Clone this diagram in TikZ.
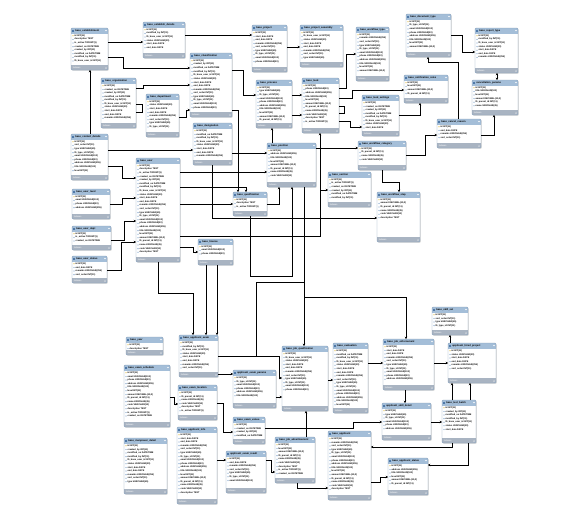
\documentclass[tikz,border=0pt]{standalone}
\usepackage{fontspec}
\setmainfont{Liberation Sans}
\usetikzlibrary{arrows.meta,calc}
\definecolor{hdrc}{HTML}{A4BED8}
\definecolor{bordc}{HTML}{88A2BE}
\definecolor{footc}{HTML}{A9B4C2}
\definecolor{iconc}{HTML}{4F79A8}
\definecolor{keyc}{HTML}{E2B93B}
\definecolor{dotc}{HTML}{7FA3CC}
\expandafter\def\csname fld1\endcsname{name VARCHAR(45)}
\expandafter\def\csname fld2\endcsname{code VARCHAR(10)}
\expandafter\def\csname fld3\endcsname{description TEXT}
\expandafter\def\csname fld4\endcsname{is\_active TINYINT(1)}
\expandafter\def\csname fld5\endcsname{created\_on DATETIME}
\expandafter\def\csname fld6\endcsname{created\_by INT(11)}
\expandafter\def\csname fld7\endcsname{modified\_on DATETIME}
\expandafter\def\csname fld8\endcsname{modified\_by INT(11)}
\expandafter\def\csname fld9\endcsname{fk\_base\_user\_id INT(11)}
\expandafter\def\csname fld10\endcsname{status VARCHAR(20)}
\expandafter\def\csname fld11\endcsname{start\_date DATE}
\expandafter\def\csname fld12\endcsname{end\_date DATE}
\expandafter\def\csname fld13\endcsname{remarks VARCHAR(255)}
\expandafter\def\csname fld14\endcsname{sort\_order INT(11)}
\expandafter\def\csname fld15\endcsname{type VARCHAR(45)}
\expandafter\def\csname fld16\endcsname{fk\_type\_id INT(11)}
\expandafter\def\csname fld17\endcsname{email VARCHAR(100)}
\expandafter\def\csname fld18\endcsname{phone VARCHAR(20)}
\expandafter\def\csname fld19\endcsname{address VARCHAR(255)}
\expandafter\def\csname fld20\endcsname{title VARCHAR(100)}
\expandafter\def\csname fld21\endcsname{level INT(11)}
\expandafter\def\csname fld22\endcsname{amount DECIMAL(10,2)}
\expandafter\def\csname fld23\endcsname{fk\_parent\_id INT(11)}
\tikzset{
  erbox/.style={inner sep=0pt, outer sep=0pt, anchor=north west, draw=none},
  ertitle/.style={font=\fontsize{2.5}{3}\selectfont\bfseries, inner sep=0pt, anchor=west},
  errow/.style={font=\fontsize{2.3}{2.8}\selectfont\bfseries, inner sep=0pt, anchor=west},
  erfoot/.style={font=\fontsize{2.2}{2.6}\selectfont, inner sep=0pt, anchor=west, text=white},
  conn/.style={draw=black, line width=0.6pt},
  tip/.style={-{Stealth[length=2.4pt,width=2.6pt]}},
  tips/.style={{Stealth[length=2.4pt,width=2.6pt]}-{Stealth[length=2.4pt,width=2.6pt]}},
}
% name, x1, y1, x2, y2, title, rows, offset
\newcommand{\ertable}[8]{%
  \node[erbox, minimum width={(#4-#2)*1pt}, minimum height={(#5-#3)*1pt}] (#1) at (#2,#3) {};
  \fill[black!14, rounded corners=1.2pt] ([xshift=0.9pt,yshift=-0.9pt]#1.north west) rectangle ([xshift=0.9pt,yshift=-0.9pt]#1.south east);
  \fill[white, rounded corners=1.2pt] (#1.north west) rectangle (#1.south east);
  \fill[hdrc, rounded corners=1.2pt] (#1.north west) rectangle ([yshift=-5.6pt]#1.north east);
  \fill[hdrc] ([yshift=-3pt]#1.north west) rectangle ([yshift=-5.6pt]#1.north east);
  \fill[footc, rounded corners=1.2pt] ([yshift=4.6pt]#1.south west) rectangle (#1.south east);
  \fill[footc] ([yshift=4.6pt]#1.south west) rectangle ([yshift=2pt]#1.south east);
  \draw[bordc, line width=0.45pt, rounded corners=1.2pt] (#1.north west) rectangle (#1.south east);
  \fill[iconc] ([xshift=1.1pt,yshift=-1.7pt]#1.north west) rectangle ++(2.2pt,-2.2pt);
  \fill[white] ([xshift=-2.8pt,yshift=-2.2pt]#1.north east) -- ++(1.6pt,0) -- ++(-0.8pt,-1.1pt) -- cycle;
  \node[ertitle] (#1-t) at ([xshift=4.1pt,yshift=-2.8pt]#1.north west) {#6};
  \node[erfoot] (#1-f) at ([xshift=1.6pt,yshift=2.3pt]#1.south west) {Indexes};
  \fill[white] ([xshift=-2.8pt,yshift=1.6pt]#1.south east) -- ++(1.6pt,0) -- ++(-0.8pt,1.1pt) -- cycle;
  \foreach \i in {1,...,#7}{%
    \pgfmathtruncatemacro\k{mod(\i+#8,23)+1}%
    \def\dc{dotc}\ifnum\i=1 \def\dc{keyc}\fi
    \fill[fill=\dc] ([xshift=2pt,yshift={-7.8pt-(\i-1)*3.6pt}]#1.north west) circle (0.65pt);
    \node[errow] (#1-r\i) at ([xshift=3.4pt,yshift={-7.8pt-(\i-1)*3.6pt}]#1.north west)
      {\ifnum\i=1 id INT(11)\else\csname fld\k\endcsname\fi};
  }%
}
\begin{document}
\begin{tikzpicture}[x=1pt,y=-1pt]
\useasboundingbox (0,0) rectangle (567,525);
\fill[white] (0,0) rectangle (567,525);
% ---------- tables ----------
\ertable{A}{71}{28}{108}{70}{base\_establishment}{8}{0}
\ertable{B}{143}{22}{185}{58}{base\_establish\_details}{6}{5}
\ertable{C}{101}{78}{136}{128}{base\_organization}{10}{2}
\ertable{D}{146}{94}{179}{137}{base\_department}{8}{7}
\ertable{E}{71}{134}{108}{180}{base\_contact\_details}{9}{11}
\ertable{F}{136}{158}{180}{262}{base\_user}{25}{0}
\ertable{G}{72}{189}{110}{219}{base\_user\_level}{4}{14}
\ertable{H}{72}{226}{111}{250}{base\_user\_dept}{3}{1}
\ertable{I}{72}{256}{107}{283}{base\_user\_status}{4}{9}
\ertable{J}{190}{53}{232}{117}{base\_classification}{14}{3}
\ertable{K}{252}{25}{287}{72}{base\_project}{9}{8}
\ertable{L}{256}{80}{292}{128}{base\_process}{10}{12}
\ertable{M}{193}{123}{232}{165}{base\_designation}{8}{4}
\ertable{N}{267}{143}{316}{187}{base\_position}{8}{16}
\ertable{O}{300}{25}{343}{67}{base\_project\_assembly}{8}{6}
\ertable{P}{356}{27}{389}{81}{base\_workflow\_type}{11}{10}
\ertable{Q}{406}{14}{451}{57}{base\_document\_type}{8}{13}
\ertable{R}{302}{78}{339}{133}{base\_task}{11}{15}
\ertable{S}{362}{95}{399}{136}{base\_task\_settings}{8}{2}
\ertable{T}{404}{75}{448}{103}{base\_notification\_rules}{4}{18}
\ertable{U}{358}{141}{406}{170}{base\_workflow\_category}{4}{20}
\ertable{V}{475}{28}{518}{73}{base\_report\_type}{7}{5}
\ertable{W}{472}{80}{518}{115}{cancellation\_params}{6}{17}
\ertable{X}{437}{119}{481}{148}{base\_cancel\_reason}{4}{9}
\ertable{Y}{328}{172}{371}{207}{base\_section}{6}{1}
\ertable{Z}{377}{192}{420}{242}{base\_workflow\_step}{6}{19}
\ertable{AA}{233}{192}{267}{216}{base\_qualification}{3}{0}
\ertable{AB}{198}{239}{233}{265}{base\_license}{3}{14}
\ertable{AC}{432}{307}{468}{335}{base\_skill\_set}{4}{11}
\ertable{AD}{448}{343}{496}{383}{applicant\_hired\_project}{6}{7}
\ertable{AE}{442}{400}{476}{443}{base\_test\_batch}{7}{3}
\ertable{AF}{383}{339}{434}{390}{base\_job\_enforcement}{10}{8}
\ertable{AH}{382}{403}{431}{440}{applicant\_skill\_detail}{6}{12}
\ertable{AI}{388}{458}{428}{495}{base\_applicant\_status}{6}{16}
\ertable{AK}{333}{343}{368}{413}{base\_evaluation}{16}{4}
\ertable{AL}{328}{431}{371}{500}{base\_applicant}{15}{10}
\ertable{AM}{282}{346}{328}{411}{base\_job\_qualification}{11}{6}
\ertable{AN}{233}{370}{276}{408}{applicant\_exam\_params}{6}{13}
\ertable{AO}{233}{417}{265}{444}{base\_exam\_venue}{4}{2}
\ertable{AP}{275}{437}{315}{483}{base\_job\_advertisement}{9}{18}
\ertable{AQ}{226}{451}{266}{493}{applicant\_exam\_result}{7}{9}
\ertable{AR}{126}{337}{163}{355}{base\_year}{2}{0}
\ertable{AS}{179}{335}{218}{377}{base\_applicant\_exam}{8}{5}
\ertable{AT}{124}{365}{170}{427}{base\_exam\_schedule}{13}{14}
\ertable{AU}{178}{385}{217}{420}{base\_exam\_location}{6}{20}
\ertable{AV}{124}{438}{167}{494}{base\_manpower\_detail}{11}{3}
\ertable{AW}{177}{427}{217}{504}{base\_applicant\_info}{17}{8}
% ---------- junction points ----------
\coordinate (j1) at (320,190);
\coordinate (j2) at (304,297);
\coordinate (j3) at (256,356);
\coordinate (j4) at (304,282);
% ---------- connectors ----------
\draw[conn,tip] (A.east |- 0,42) -- (B.west |- 0,42);
\draw[conn,tip] (A.east |- 0,57) -| (123,68) -- (J.west |- 0,68);
\draw[conn,tip] (E.north -| 90,0) -- (A.south -| 90,0);
\draw[conn,tip] (B.east |- 0,35) -- (K.west |- 0,35);
\draw[conn,tip] (C.east |- 0,88) -| (143,85) -- (J.west |- 0,85);
\draw[conn] (C.east |- 0,104) -| (142,112) -- (C.east |- 0,112);
\draw[conn,tip] (D.east |- 0,117) -| (186,110) -- (J.west |- 0,110);
\draw[conn,tip] (E.east |- 0,150) -- (M.west |- 0,150);
\draw[conn,tip] (E.east |- 0,166) -| (122,178) -- (F.west |- 0,178);
\draw[conn,tip] (G.east |- 0,204) -| (122,198) -- (F.west |- 0,198);
\draw[conn,tip] (H.east |- 0,240) -| (124,221) -- (F.west |- 0,221);
\draw[conn,tip] (I.east |- 0,270) -| (121,242) -- (F.west |- 0,242);
\draw[conn,tip] (J.east |- 0,70) -| (243,95) -- (L.west |- 0,95);
\draw[conn,tip] (K.east |- 0,47) -- (O.west |- 0,47);
\draw[conn,tip] (L.east |- 0,95) -- (R.west |- 0,95);
\draw[conn,tip] (L.east |- 0,115) -- (R.west |- 0,115);
\draw[conn,tip] (R.east |- 0,88) -| (346,54) -- (P.west |- 0,54);
\draw[conn,tip] (R.east |- 0,98) -| (352,90) -- (T.west |- 0,90);
\draw[conn] (R.east |- 0,106) -| (344,113) -- (R.east |- 0,113);
\draw[conn,tip] (R.east |- 0,121) -| (350,127) -- (S.west |- 0,127);
\draw[conn,tip] (F.east |- 0,236) -| (R.south -| 320,0);
\draw[conn,tip] (j1) -- (Y.west |- j1);
\draw[conn,tip] (F.east |- 0,172) -- (N.west |- 0,172);
\draw[conn,tip] (M.south -| 212,0) |- (Z.west |- 0,218);
\draw[conn,tip] (F.east |- 0,204) -- (AA.west |- 0,204);
\draw[conn,tip] (AA.east |- 0,204) -| (N.south -| 279,0);
\draw[conn,tip] (AA.south -| 250,0) |- (292,276) -- (N.south -| 292,0);
\draw[conn,tip] (J.east |- 0,110) -| (AA.north -| 238,0);
\draw[conn,tip] (M.east |- 0,153) -- (N.west |- 0,153);
\draw[conn,tip] (F.east |- 0,187) -| (AA.north -| 246,0);
\draw[conn,tip] (N.north -| 272,0) -- (L.south -| 272,0);
\draw[conn,tip] (N.east |- 0,148) -- (U.west |- 0,148);
\draw[conn,tip] (U.south -| 382,0) |- (399,182) -- (Z.north -| 399,0);
\draw[conn,tip] (U.east |- 0,155) -| (425,135) -- (X.west |- 0,135);
\draw[conn,tip] (S.east |- 0,115) -| (T.south -| 420,0);
\draw[conn,tip] (X.north -| 458,0) |- (428,62) -- (Q.south -| 428,0);
\draw[conn,tip] (Q.east |- 0,35) -| (462,52) -- (V.west |- 0,52);
\draw[conn,tips] (W.north -| 497,0) -- (V.south -| 497,0);
\draw[conn,tip] (X.east |- 0,135) -| (W.south -| 494,0);
\draw[conn,tip] (F.east |- 0,247) -| (193,252) -- (AB.west |- 0,252);
\draw[conn,tip] (F.south -| 158,0) |- (193,293) -- (AS.north -| 193,0);
\draw[conn,tip] (AB.south -| 206,0) -- (AS.north -| 206,0);
\draw[conn,tip] (AB.south -| 217,0) -- (AS.north -| 217,0);
\draw[conn,tip] (N.south -| 304,0) -- (AM.north -| 304,0);
\draw[conn,tip] (j2) -| (AF.north -| 406,0);
\draw[conn,tip] (AS.east |- 0,356) -| (279,378) -- (AM.west |- 0,378);
\draw[conn] (j3) |- (j4);
\draw[conn,tip] (AS.east |- 0,374) -- (AN.west |- 0,374);
\draw[conn,tip] (AN.east |- 0,397) -- (AM.west |- 0,397);
\draw[conn,tip] (AM.east |- 0,380) -- (AK.west |- 0,380);
\draw[conn,tip] (AK.east |- 0,363) -- (AF.west |- 0,363);
\draw[conn,tip] (AF.east |- 0,363) -- (AD.west |- 0,363);
\draw[conn,tip] (AD.north -| 450,0) -- (AC.south -| 450,0);
\draw[conn,tip] (AE.north -| 452,0) -- (AD.south -| 452,0);
\draw[conn,tip] (AE.north -| 470,0) -- (AD.south -| 470,0);
\draw[conn,tip] (AF.south -| 405,0) -- (AH.north -| 405,0);
\draw[conn,tip] (AH.east |- 0,422) -- (AE.west |- 0,422);
\draw[conn,tip] (AE.south -| 452,0) |- (AL.east |- 0,447);
\draw[conn,tip] (AE.south -| 468,0) |- (AI.east |- 0,465);
\draw[conn,tip] (AL.east |- 0,482) -| (380,477) -- (AI.west |- 0,477);
\draw[conn,tip] (AP.south -| 297,0) |- (AL.west |- 0,488);
\draw[conn,tip] (AP.north -| 306,0) -- (AM.south -| 306,0);
\draw[conn,tip] (AQ.east |- 0,460) -| (271,472) -- (AP.west |- 0,472);
\draw[conn,tip] (AW.east |- 0,460) -- (AQ.west |- 0,460);
\draw[conn,tip] (AT.east |- 0,397) -| (174,404) -- (AU.west |- 0,404);
\draw[conn,tip] (AU.east |- 0,403) -| (223,432) -- (AO.west |- 0,432);
\draw[conn,tip] (AO.east |- 0,428) -| (353,422) -- (AH.west |- 0,422);
\end{tikzpicture}
\end{document}
